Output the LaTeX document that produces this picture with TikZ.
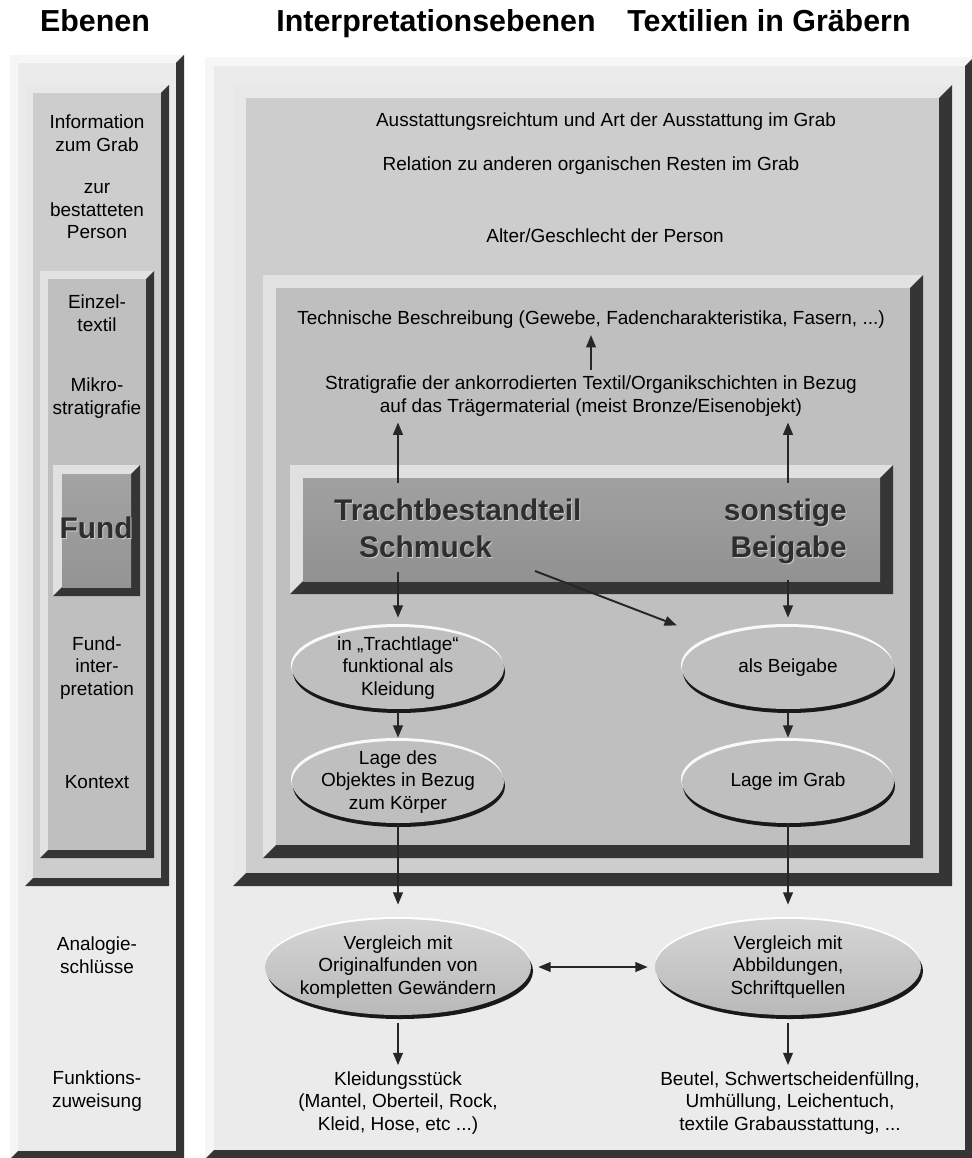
\documentclass[tikz,border=0pt]{standalone}
\usepackage{fontspec}
\setmainfont{Liberation Sans}
\usepackage{xcolor}
\usepackage{tikz}
\usetikzlibrary{arrows.meta,shapes.geometric,positioning}

\definecolor{edgedark}{HTML}{353535}
\definecolor{lightA}{HTML}{F6F6F6}
\definecolor{faceA}{HTML}{EBEBEB}
\definecolor{lightB}{HTML}{E8E8E8}
\definecolor{faceB}{HTML}{CDCDCD}
\definecolor{lightC}{HTML}{E2E2E2}
\definecolor{faceC}{HTML}{BFBFBF}
\definecolor{lightD}{HTML}{E0E0E0}

% beveled box: x1, y1, x2, y2, bevel, highlight colour, face options
\newcommand{\bevelbox}[7]{%
  \fill[#6] (#1,#2) rectangle (#3,#4);
  \fill[edgedark] (#3,#2) -- (#3,#4) -- (#1,#4) -- (#1+#5,#4-#5) -- (#3-#5,#4-#5) -- (#3-#5,#2+#5) -- cycle;
  \path[#7] (#1+#5,#2+#5) rectangle (#3-#5,#4-#5);
}

\begin{document}
\begin{tikzpicture}[x=0.02cm, y=-0.02cm,
    txt/.style={align=center, font=\fontsize{10.8}{13}\selectfont},
    head/.style={font=\fontsize{17.3}{20}\selectfont\bfseries, anchor=base},
    big/.style={font=\fontsize{17}{20}\selectfont\bfseries, text=black!82},
    bigshade/.style={font=\fontsize{17}{20}\selectfont\bfseries, text=white!80!black},
    arr/.style={-{Triangle[width=5.5pt,length=7pt]}, line width=1.1pt, draw=black!85},
    dblarr/.style={arr, {Triangle[width=5.5pt,length=7pt]}-{Triangle[width=5.5pt,length=7pt]}},
    oval/.style={ellipse, inner sep=0pt, minimum width=4.24cm, minimum height=1.64cm},
    bigoval/.style={ellipse, inner sep=0pt, minimum width=5.32cm, minimum height=1.92cm}]

  \useasboundingbox (0,0) rectangle (971,1158);
  \fill[white] (0,0) rectangle (971,1158);

  % Headings
  \node[head] (hEbenen) at (95,32) {Ebenen};
  \node[head] (hInterp) at (436,32) {Interpretationsebenen};
  \node[head] (hTextil) at (769,32) {Textilien in Gräbern};

  % Left column: nested levels
  \bevelbox{10}{55}{184}{1159}{8}{lightA}{fill=faceA}
  \bevelbox{25}{85}{169}{886}{8}{lightB}{fill=faceB}
  \bevelbox{40}{271}{154}{858}{8}{lightC}{fill=faceC}
  \bevelbox{53}{465}{140}{596}{9}{lightD}{top color=gray!72, bottom color=gray!84}

  % Right column: nested levels
  \bevelbox{205}{57}{974}{1159}{9}{lightA}{fill=faceA}
  \bevelbox{233}{85}{952}{886}{13}{lightB}{fill=faceB}
  \bevelbox{263}{275}{923}{858}{13}{lightC}{fill=faceC}
  \bevelbox{290}{465}{893}{594}{13}{lightD}{top color=gray!74, bottom color=gray!86}

  % Left column labels
  \node[txt] (info)    at (97,133)  {Information\\zum Grab};
  \node[txt] (person)  at (97,211)  {zur\\bestatteten\\Person};
  \node[txt] (einzel)  at (97,313)  {Einzel-\\textil};
  \node[txt] (mikro)   at (97,398)  {Mikro-\\stratigrafie};
  \node[bigshade, anchor=base] (fundS) at (97,539) {Fund};
  \node[big, anchor=base]      (fund)  at (96,538) {Fund};
  \node[txt] (fundint) at (97,668)  {Fund-\\inter-\\pretation};
  \node[txt] (kontext) at (97,782)  {Kontext};
  \node[txt] (analog)  at (97,955)  {Analogie-\\schlüsse};
  \node[txt] (funkt)   at (97,1091) {Funktions-\\zuweisung};

  % Grave and find level
  \node[txt] (ausst)  at (606,122) {Ausstattungsreichtum und Art der Ausstattung im Grab};
  \node[txt] (relat)  at (591,166) {Relation zu anderen organischen Resten im Grab};
  \node[txt] (alter)  at (605,236) {Alter/Geschlecht der Person};
  \node[txt] (techn)  at (591,320) {Technische Beschreibung (Gewebe, Fadencharakteristika, Fasern, ...)};
  \node[txt] (strat)  at (591,396) {Stratigrafie der ankorrodierten Textil/Organikschichten in Bezug\\auf das Trägermaterial (meist Bronze/Eisenobjekt)};

  % Bar labels
  \node[bigshade, anchor=base west] (trachtS) at (329,521) {Trachtbestandteil};
  \node[big, anchor=base west]      (tracht)  at (328,520) {Trachtbestandteil};
  \node[bigshade, anchor=base west] (schmS)   at (354,558) {Schmuck};
  \node[big, anchor=base west]      (schm)    at (353,557) {Schmuck};
  \node[bigshade, anchor=base east] (sonstS)  at (854,521) {sonstige};
  \node[big, anchor=base east]      (sonst)   at (853,520) {sonstige};
  \node[bigshade, anchor=base east] (beigS)   at (854,558) {Beigabe};
  \node[big, anchor=base east]      (beig)    at (853,557) {Beigabe};

  % Rimmed ovals
  \foreach \cx/\cy in {398/668, 788/668, 398/782, 788/782} {
    \fill[white!95!gray] (\cx-1,\cy-3) ellipse [x radius=106, y radius=41];
    \fill[black!90] (\cx+1,\cy+4) ellipse [x radius=106, y radius=41];
    \fill[faceC] (\cx,\cy) ellipse [x radius=106, y radius=41];
  }
  \foreach \cx in {398, 788} {
    \fill[white] (\cx,965) ellipse [x radius=133, y radius=48];
    \fill[black!90] (\cx+2,971) ellipse [x radius=133, y radius=48];
    \shade[top color=gray!33, bottom color=gray!55] (\cx,967) ellipse [x radius=133, y radius=48];
  }

  \node[oval, label={[txt]center:{in „Trachtlage“\\funktional als\\Kleidung}}] (inTracht) at (398,668) {};
  \node[oval, label={[txt]center:{als Beigabe}}] (alsBeig) at (788,668) {};
  \node[oval, label={[txt]center:{Lage des\\Objektes in Bezug\\zum Körper}}] (lageObj) at (398,782) {};
  \node[oval, label={[txt]center:{Lage im Grab}}] (lageGrab) at (788,782) {};
  \node[bigoval, label={[txt]center:{Vergleich mit\\Originalfunden von\\kompletten Gewändern}}] (vglOrig) at (398,967) {};
  \node[bigoval, label={[txt]center:{Vergleich mit\\Abbildungen,\\Schriftquellen}}] (vglAbb) at (788,967) {};

  % Function assignment
  \node[txt] (kleid)  at (398,1103) {Kleidungsstück\\(Mantel, Oberteil, Rock,\\Kleid, Hose, etc ...)};
  \node[txt] (beutel) at (790,1103) {Beutel, Schwertscheidenfüllng,\\Umhüllung, Leichentuch,\\textile Grabausstattung, ...};

  % Arrows
  \coordinate (upL)      at (398,483);
  \coordinate (upR)      at (788,483);
  \coordinate (dnL)      at (398,572);
  \coordinate (dnR)      at (788,580);
  \coordinate (diagFrom) at (535,571);
  \draw[arr] (strat) -- (techn);
  \draw[arr] (upL) -- (upL |- strat.south);
  \draw[arr] (upR) -- (upR |- strat.south);
  \draw[arr, shorten >=0.18cm] (dnL) -- (inTracht);
  \draw[arr, shorten >=0.18cm] (dnR) -- (alsBeig);
  \draw[arr, shorten >=0.76cm] (diagFrom) -- (alsBeig);
  \draw[arr, shorten <=0.06cm, shorten >=0.06cm] (inTracht) -- (lageObj);
  \draw[arr, shorten <=0.06cm, shorten >=0.06cm] (alsBeig) -- (lageGrab);
  \draw[arr, shorten <=0.04cm, shorten >=0.28cm] (lageObj) -- (vglOrig);
  \draw[arr, shorten <=0.04cm, shorten >=0.28cm] (lageGrab) -- (vglAbb);
  \draw[dblarr, shorten <=0.14cm, shorten >=0.14cm] (vglOrig) -- (vglAbb);
  \draw[arr, shorten <=0.16cm] (vglOrig) -- (kleid);
  \draw[arr, shorten <=0.16cm] (vglAbb) -- (vglAbb |- beutel.north);
\end{tikzpicture}
\end{document}
